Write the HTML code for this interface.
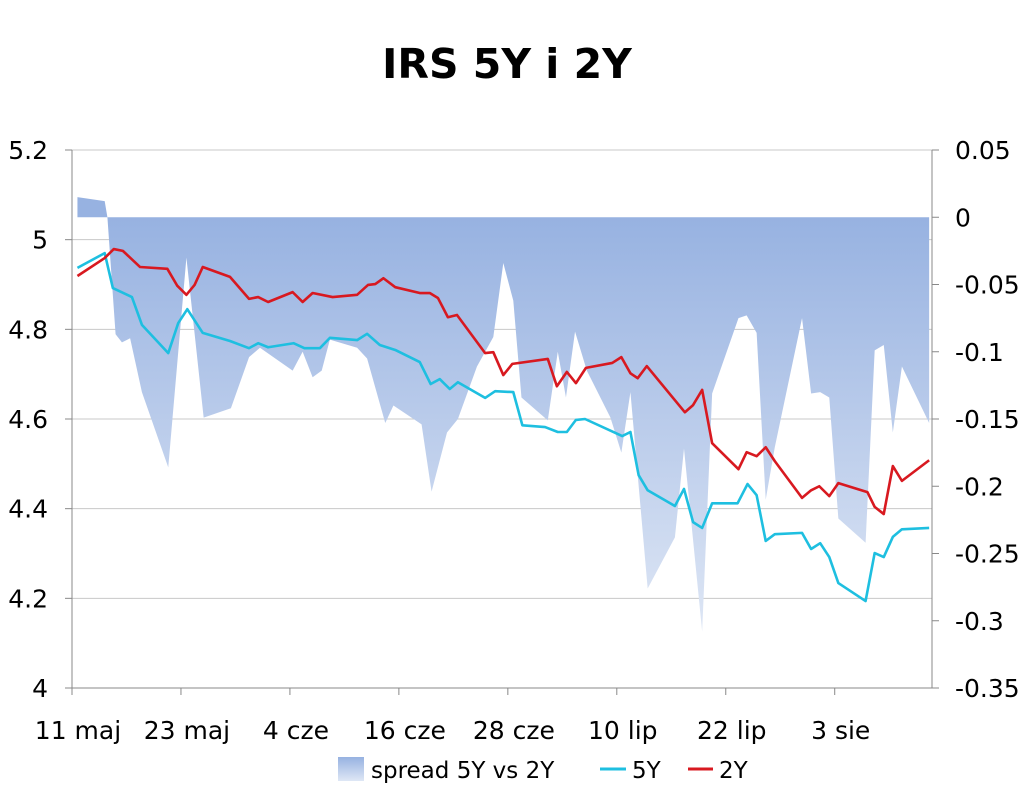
<!DOCTYPE html>
<html><head><meta charset="utf-8"><style>
body{margin:0;background:#fff;}
svg text{font-family:"DejaVu Sans","Liberation Sans",sans-serif;fill:#000;}
</style></head><body>
<svg id="chart" width="1024" height="791" xmlns="http://www.w3.org/2000/svg">
<defs><linearGradient id="sg" gradientUnits="userSpaceOnUse" x1="0" y1="217" x2="0" y2="640"><stop offset="0" stop-color="#97b2e1"/><stop offset="1" stop-color="#dfe7f5"/></linearGradient>
<linearGradient id="lg" x1="0" y1="0" x2="0" y2="1"><stop offset="0" stop-color="#97b2e1"/><stop offset="1" stop-color="#dfe7f5"/></linearGradient></defs>
<text x="507" y="78" text-anchor="middle" font-size="41" font-weight="bold">IRS 5Y i 2Y</text>
<g id="grid"></g><g id="area"></g><g id="lines"></g><g id="axes"></g>
<g>
<rect x="338" y="757" width="26" height="24" fill="url(#lg)"/>
<text x="371" y="778" font-size="23">spread 5Y vs 2Y</text>
<line x1="600" y1="769" x2="626" y2="769" stroke="#1ebfe0" stroke-width="3"/>
<text x="632" y="778" font-size="23">5Y</text>
<line x1="688" y1="769" x2="713" y2="769" stroke="#d81920" stroke-width="3"/>
<text x="719" y="778" font-size="23">2Y</text>
</g>
</svg>
<script>
const xTickLabels=["11 maj","23 maj","4 cze","16 cze","28 cze","10 lip","22 lip","3 sie"];
const leftTicks=[4,4.2,4.4,4.6,4.8,5,5.2];
const rightTicks=[0.05,0,-0.05,-0.1,-0.15,-0.2,-0.25,-0.3,-0.35];
const days5=[0.6,3.6,4.5,6.6,7.7,10.6,11.7,12.7,14.4,17.4,19.5,20.5,21.6,24.4,25.6,27.3,28.4,31.4,32.5,33.9,35.6,38.3,39.5,40.5,41.6,42.5,45.5,46.6,48.6,49.6,52.1,53.5,54.5,55.5,56.5,60.6,61.5,62.4,63.4,66.4,67.4,68.4,69.4,70.5,73.3,74.4,75.4,76.4,77.4,80.4,81.4,82.4,83.4,84.4,87.4,88.4,89.4,90.4,91.4,94.4];
const vals5=[4.937,4.970,4.892,4.872,4.810,4.747,4.814,4.845,4.792,4.774,4.758,4.769,4.760,4.769,4.758,4.758,4.781,4.776,4.790,4.765,4.754,4.727,4.678,4.689,4.667,4.682,4.647,4.662,4.660,4.586,4.582,4.571,4.571,4.598,4.600,4.562,4.571,4.475,4.441,4.406,4.444,4.370,4.357,4.412,4.412,4.455,4.430,4.328,4.343,4.346,4.310,4.323,4.292,4.234,4.194,4.301,4.292,4.337,4.354,4.357];
const days2=[0.6,3.6,4.6,5.6,7.5,10.5,11.6,12.6,13.5,14.4,17.4,19.5,20.5,21.6,24.3,25.4,26.5,28.7,31.4,32.6,33.4,34.3,35.6,38.3,39.4,40.3,41.4,42.4,45.5,46.4,47.5,48.5,52.4,53.4,54.5,55.5,56.6,59.5,60.5,61.5,62.3,63.3,67.5,68.4,69.4,70.5,73.4,74.3,75.4,76.4,77.4,80.4,81.4,82.3,83.4,84.4,87.6,88.4,89.4,90.4,91.4,94.4];
const vals2=[4.919,4.959,4.979,4.975,4.939,4.935,4.897,4.877,4.899,4.939,4.917,4.868,4.872,4.861,4.883,4.861,4.881,4.872,4.877,4.899,4.901,4.914,4.894,4.881,4.881,4.870,4.827,4.832,4.747,4.749,4.698,4.723,4.734,4.673,4.705,4.680,4.714,4.725,4.738,4.702,4.691,4.718,4.615,4.631,4.665,4.546,4.488,4.526,4.517,4.537,4.506,4.424,4.441,4.450,4.428,4.457,4.437,4.404,4.388,4.495,4.462,4.508];
const daysS=[0.6,3.6,3.9,4.8,5.5,6.4,7.7,10.6,12.6,14.5,17.5,19.5,20.7,24.3,25.4,26.5,27.5,28.4,31.4,32.5,34.5,35.4,38.5,39.6,41.3,42.5,44.6,46.4,47.5,48.6,49.5,52.4,53.5,54.4,55.4,56.7,59.3,60.5,61.5,63.4,66.4,67.4,69.4,70.5,73.4,74.3,75.4,76.4,77.4,80.4,81.4,82.4,83.4,84.4,87.4,88.4,89.4,90.4,91.4,94.4];
const valsS=[0.015,0.012,0,-0.087,-0.093,-0.090,-0.130,-0.186,-0.030,-0.149,-0.142,-0.104,-0.097,-0.114,-0.100,-0.119,-0.114,-0.091,-0.097,-0.105,-0.153,-0.140,-0.154,-0.204,-0.160,-0.150,-0.111,-0.089,-0.034,-0.062,-0.134,-0.151,-0.100,-0.134,-0.085,-0.114,-0.149,-0.175,-0.130,-0.276,-0.238,-0.172,-0.308,-0.131,-0.075,-0.073,-0.086,-0.210,-0.171,-0.075,-0.131,-0.130,-0.134,-0.224,-0.242,-0.099,-0.095,-0.160,-0.111,-0.153];
const NS="http://www.w3.org/2000/svg";
const X0=72,X1=932,Y0=150,Y1=688,DPX=9.08;
const xS=d=>X0+d*DPX;
const yL=v=>Y1-(v-4)/1.2*(Y1-Y0);
const yR=v=>Y0+(0.05-v)/0.4*(Y1-Y0);
function mk(t,a,p){const e=document.createElementNS(NS,t);for(const k in a)e.setAttribute(k,a[k]);p.appendChild(e);return e;}
const grid=document.getElementById('grid'),axes=document.getElementById('axes'),area=document.getElementById('area'),lines=document.getElementById('lines');
leftTicks.forEach(v=>{const y=yL(v);
const g=mk('line',{x1:X0,y1:y,x2:X1,y2:y,stroke:'#c8c8c8','stroke-width':1},grid);


const tk=mk('line',{x1:X0-7,y1:y,x2:X0,y2:y,stroke:'#888'},axes);


const t=mk('text',{x:48,y:y+9,'text-anchor':'end','font-size':25},axes);t.textContent=String(v);

});
rightTicks.forEach(v=>{const y=yR(v);
const tk=mk('line',{x1:X1,y1:y,x2:X1+7,y2:y,stroke:'#888'},axes);


const t=mk('text',{x:955,y:y+9,'font-size':25},axes);t.textContent=String(v);

});
xTickLabels.forEach((l,i)=>{const x=xS(i*12);
const tk=mk('line',{x1:x,y1:Y1,x2:x,y2:Y1+7,stroke:'#888'},axes);


const t=mk('text',{x:x+6,y:739,'text-anchor':'middle','font-size':25},axes);t.textContent=l;

});
const la=mk('line',{x1:X0,y1:Y0,x2:X0,y2:Y1,stroke:'#888'},axes);


const ra=mk('line',{x1:X1,y1:Y0,x2:X1,y2:Y1,stroke:'#888'},axes);


const xa=mk('line',{x1:X0,y1:Y1,x2:X1,y2:Y1,stroke:'#888'},axes);


let d='M'+xS(daysS[0])+','+yR(0);
daysS.forEach((dd,i)=>{d+=' L'+xS(dd)+','+yR(valsS[i]);});
d+=' L'+xS(daysS[daysS.length-1])+','+yR(0)+' Z';
const ar=mk('path',{d:d,fill:'url(#sg)'},area);


function line(ds,vs,c,name){const p=mk('polyline',{points:ds.map((dd,i)=>xS(dd)+','+yL(vs[i])).join(' '),fill:'none',stroke:c,'stroke-width':2.6,'stroke-linejoin':'round'},lines);

}
line(days5,vals5,'#1ebfe0','line-5y');
line(days2,vals2,'#d81920','line-2y');
</script>
</body></html>
